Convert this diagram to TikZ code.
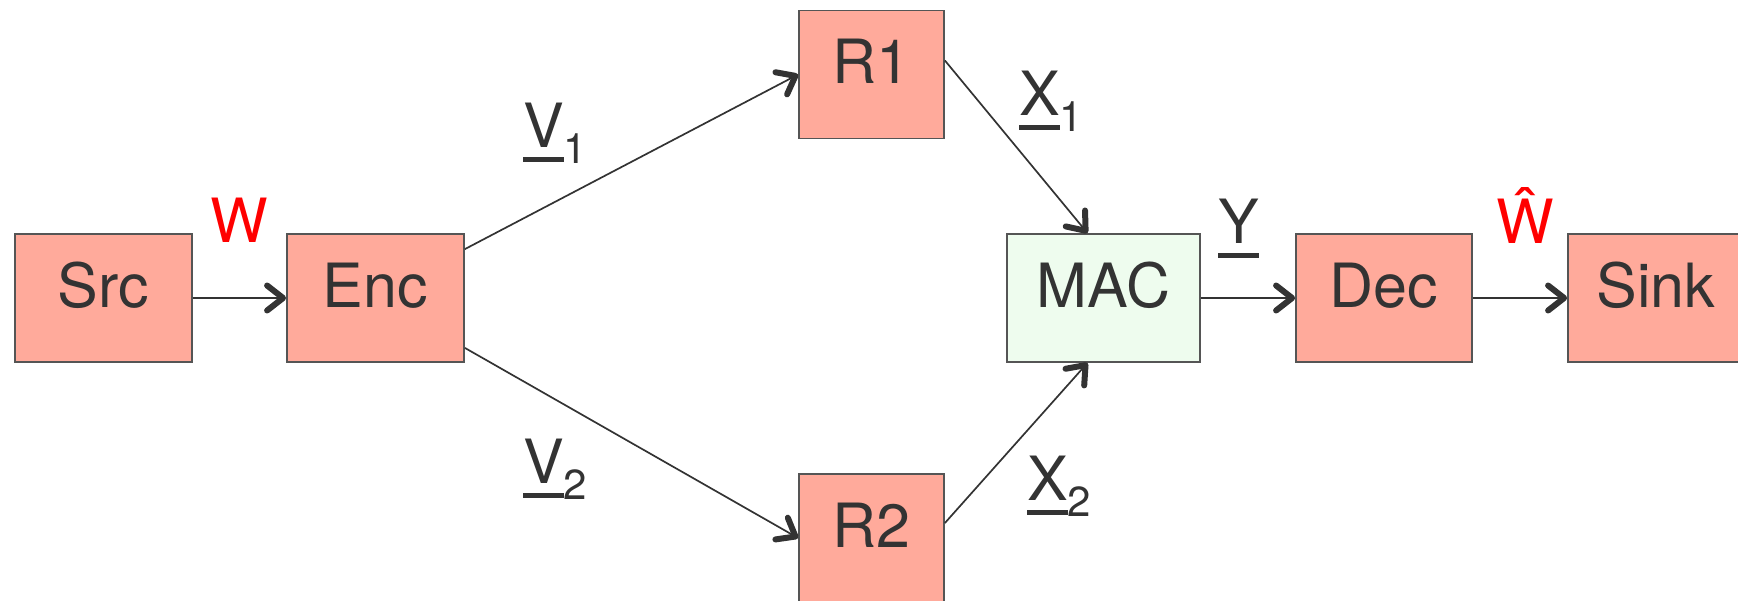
\documentclass[tikz,border=0pt]{standalone}
\usepackage{fontspec}
\setmainfont{TeX Gyre Heros}
\usetikzlibrary{arrows.meta}
\definecolor{boxred}{HTML}{FFAA9B}
\definecolor{boxgreen}{HTML}{EEFCEE}
\definecolor{ink}{HTML}{333333}
\definecolor{edge}{HTML}{555555}
% underlined symbol with a lowered index
\newcommand{\usym}[2]{\setbox0\hbox{#1}\rlap{\rule[-15pt]{\wd0}{5.5pt}}\box0\raisebox{-16pt}{\fontsize{42pt}{48pt}\selectfont #2}}

\begin{document}
\begin{tikzpicture}[x=1pt,y=-1pt,
  box/.style={draw=edge,line width=1.8pt,fill=boxred,minimum height=128pt,text height=44pt,text depth=26pt,inner sep=0pt,text=ink,font=\fontsize{61pt}{70pt}\selectfont},
  lbl/.style={inner sep=0pt,anchor=base west,text=ink,font=\fontsize{61pt}{70pt}\selectfont},
  conn/.style={draw=ink,line width=1.7pt,-{Straight Barb[length=16pt,width=25pt,line width=6pt,round]}}]
 \useasboundingbox (0,0) rectangle (1738,600);
 \clip (0,0) rectangle (1738,600);

 \node[box,minimum width=177pt] (src) at (103.5,298) {Src};
 \node[box,minimum width=177pt] (enc) at (375.5,298) {Enc};
 \node[box,minimum width=145pt] (rone) at (871.5,74.5) {R1};
 \node[box,minimum width=145pt] (rtwo) at (871.5,538) {R2};
 \node[box,minimum width=193pt,fill=boxgreen] (mac) at (1103.5,298) {MAC};
 \node[box,minimum width=176pt] (dec) at (1384,298) {Dec};
 \node[box,minimum width=176pt] (sink) at (1656,298) {Sink};

 \draw[conn] (src) -- (enc);
 \draw[conn] ([yshift=-16pt]enc.north east) -- (rone.west);
 \draw[conn] ([yshift=15pt]enc.south east) -- (rtwo.west);
 \draw[conn] ([yshift=14pt]rone.east) -- ([xshift=-16pt]mac.north);
 \draw[conn] ([yshift=15pt]rtwo.east) -- ([xshift=-16pt]mac.south);
 \draw[conn] (mac) -- (dec);
 \draw[conn] (dec) -- (sink);

 \node[lbl,text=red] (w) at (210,242) {W};
 \node[lbl,text=red] (what) at (1496,243) {Ŵ};
 \node[lbl] (vone) at (523,147) {\usym{V}{1}};
 \node[lbl] (vtwo) at (523,483) {\usym{V}{2}};
 \node[lbl] (xone) at (1019,115) {\usym{X}{1}};
 \node[lbl] (xtwo) at (1027,500) {\usym{X}{2}};
 \node[lbl] (y) at (1218,243) {\usym{Y}{}};
\end{tikzpicture}
\end{document}
